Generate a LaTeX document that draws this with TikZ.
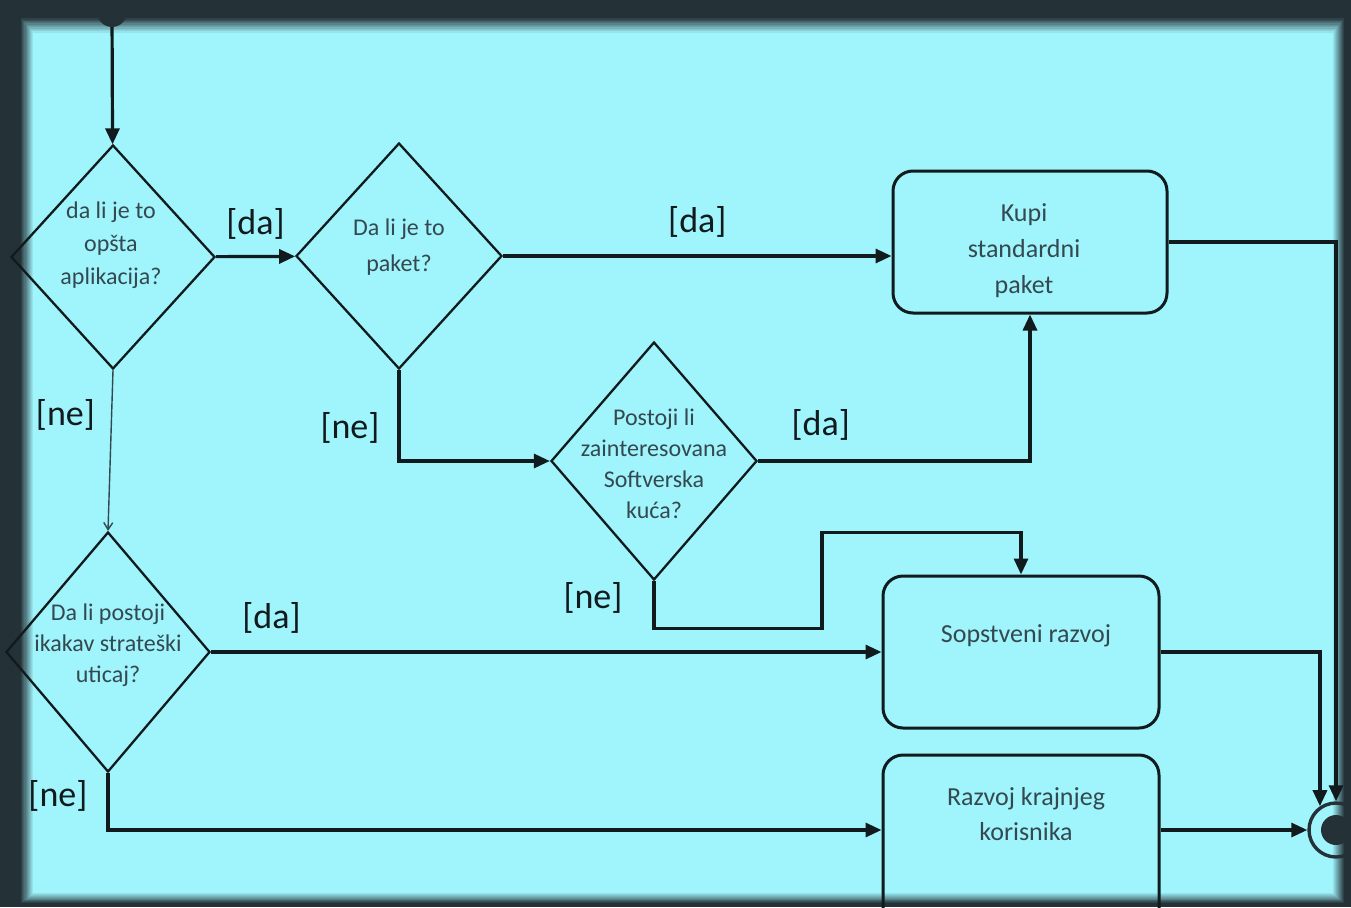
\documentclass[tikz,border=0pt]{standalone}
\usepackage{fontspec}
\setmainfont{Carlito}
\usetikzlibrary{arrows.meta,positioning,shapes.geometric}

\definecolor{sky}{HTML}{A0F4FC}
\definecolor{rim}{HTML}{243238}
\definecolor{ink}{HTML}{111A1D}
\definecolor{slate}{HTML}{34494F}

\begin{document}
\begin{tikzpicture}[
  decision/.style={diamond, draw=ink, line width=2.3pt, inner sep=0pt},
  activity/.style={rectangle, rounded corners=20pt, draw=ink, line width=3pt, inner sep=0pt},
  caption/.style={font=\fontsize{24}{33}\selectfont, text=slate, align=center},
  guard/.style={font=\fontsize{36}{40}\selectfont, text=ink, inner sep=2pt},
  flow/.style={draw=ink, line width=3.2pt, -{Triangle[length=16pt,width=14pt]}},
  thinflow/.style={draw=slate, line width=1.4pt, -{Straight Barb[length=7pt,width=9pt]}},
  initdot/.style={circle, fill=rim, minimum size=30pt, inner sep=0pt},
  enddot/.style={circle, draw=rim, line width=3.4pt, minimum size=54pt, inner sep=0pt,
    path picture={\fill[rim] (path picture bounding box.center) circle (15pt);}}]
  \useasboundingbox (0,0) rectangle (1351pt,-907pt);

  % dark frame fading into the sky-blue panel
  \fill[rim] (0,0) rectangle (1351pt,-907pt);
  \foreach \i in {0,...,12}{
    \pgfmathtruncatemacro\mix{\i*100/12}
    \fill[sky!\mix!rim] ({(20+1.1*\i)*1pt},{-(17+1.3*\i)*1pt}) rectangle ({(1345-1.0*\i)*1pt},{-(904-0.9*\i)*1pt});
  }

  % nodes
  \draw (112.0pt, -12.0pt)node[initdot](init){};
  \draw (113.0pt, -257.0pt)node[decision, minimum width=204pt, minimum height=224pt,
    label={[caption, xshift=-2pt, yshift=12pt]center:{da li je to\\opšta\\aplikacija?}}](d1){};
  \draw (399.0pt, -256.0pt)node[decision, minimum width=206pt, minimum height=226pt,
    label={[caption, font=\fontsize{24}{36}\selectfont, yshift=9pt]center:{Da li je to\\paket?}}](d2){};
  \draw (654.0pt, -461.0pt)node[decision, minimum width=206pt, minimum height=238pt,
    label={[caption, font=\fontsize{24}{31}\selectfont, yshift=-3pt]center:{Postoji li\\zainteresovana\\Softverska\\kuća?}}](d3){};
  \draw (108.0pt, -652.0pt)node[decision, minimum width=204pt, minimum height=240pt,
    label={[caption, font=\fontsize{24}{31}\selectfont, yshift=7pt]center:{Da li postoji\\ikakav strateški\\uticaj?}}](d4){};
  \draw (1030.0pt, -242.0pt)node[activity, minimum width=274pt, minimum height=142pt,
    label={[caption, font=\fontsize{26}{36}\selectfont, xshift=-6pt, yshift=-9pt]center:{Kupi\\standardni\\paket}}](k){};
  \draw (1021.0pt, -652.0pt)node[activity, minimum width=276pt, minimum height=152pt,
    label={[caption, font=\fontsize{26}{36}\selectfont, xshift=5pt, yshift=16pt]center:{Sopstveni razvoj}}](s){};
  \draw (1021.0pt, -850.0pt)node[activity, minimum width=276pt, minimum height=190pt,
    label={[caption, font=\fontsize{26}{35}\selectfont, xshift=5pt, yshift=36pt]center:{Razvoj krajnjeg\\korisnika}}](r){};
  \draw (1336.0pt, -830.0pt)node[enddot](fin){};

  % flows
  \draw[flow] (init) -- (d1);
  \draw[flow] (d1) -- node[guard, above=13pt]{[da]} (d2);
  \draw[flow] (d2.east) -- node[guard, above=15pt]{[da]} (d2.east -| k.west);
  \draw[flow] (d2.south) |- node[guard, pos=0.32, left=16pt]{[ne]} (d3.west);
  \draw[flow] (d3.east) -| node[guard, pos=0.115, above=17pt]{[da]} (k.south);
  \draw[flow] (d3.south) -- node[guard, pos=0.36, left=28pt]{[ne]} ++(0,-47pt) -| ++(168pt,96pt) -| (s.north);
  \draw[thinflow] (d1.south) -- node[guard, pos=0.28, left=14pt]{[ne]} (d4.north);
  \draw[flow] (d4) -- node[guard, pos=0.09, above=15pt]{[da]} (s);
  \draw[flow] (d4.south) |- node[guard, pos=0.2, left=17pt]{[ne]} ([yshift=20pt]r.west);
  \draw[flow] (k.east) -| (fin.north);
  \draw[flow] (s.east) -| (fin.124);
  \draw[flow] ([yshift=20pt]r.east) -- (fin.west);
\end{tikzpicture}
\end{document}
